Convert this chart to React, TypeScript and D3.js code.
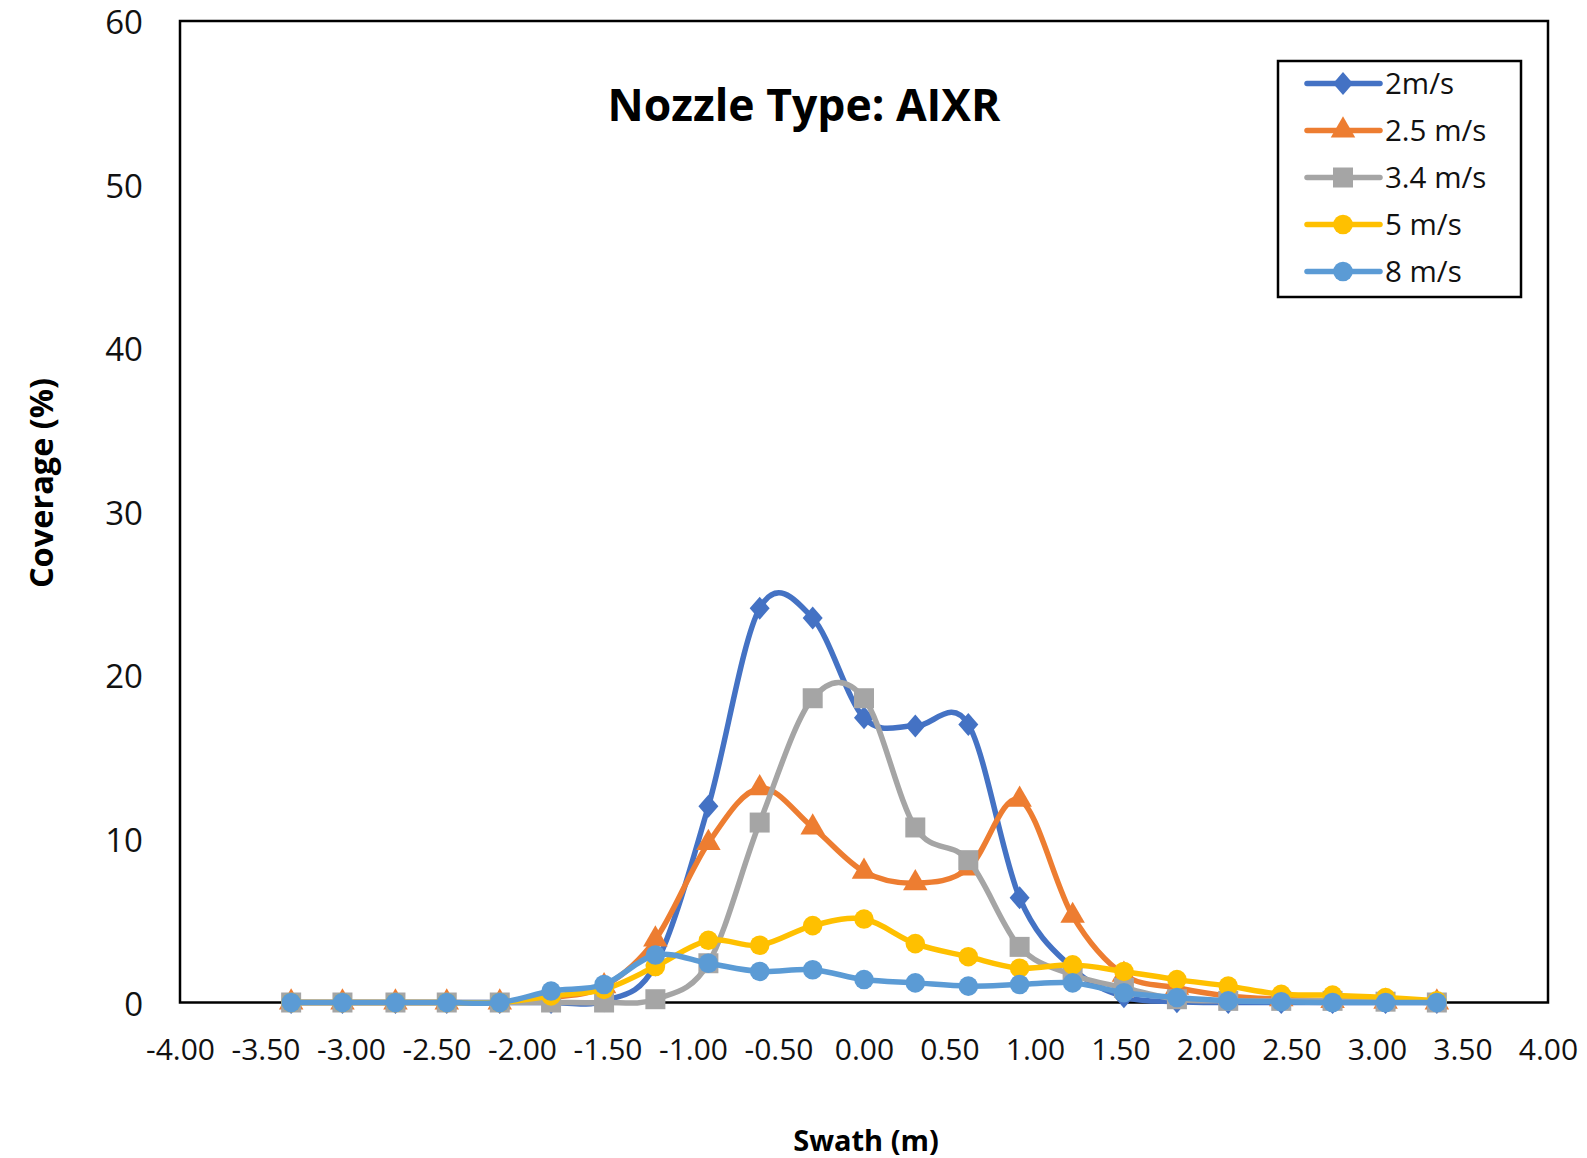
import { useEffect, useRef } from "react";
import * as d3 from "d3";

// swath positions (m) and coverage (%)
const swath = [-3.35, -3.05, -2.74, -2.44, -2.13, -1.83, -1.52, -1.22, -0.91, -0.61, -0.3, 0, 0.3, 0.61, 0.91, 1.22, 1.52, 1.83, 2.13, 2.44, 2.74, 3.05, 3.35];

const v2 = [0, 0, 0, 0, 0, 0, 0.1, 2.3, 12.0, 24.1, 23.5, 17.4, 16.9, 17.0, 6.4, 2.1, 0.35, 0.05, 0, 0, 0, 0, 0];
const v25 = [0, 0, 0, 0, 0, 0.3, 1.0, 3.85, 9.75, 13.1, 10.7, 8.0, 7.3, 8.2, 12.4, 5.3, 1.7, 0.9, 0.4, 0.2, 0.1, 0.05, 0];
const v34 = [0, 0, 0, 0, 0, 0, 0, 0.2, 2.4, 11.0, 18.6, 18.6, 10.7, 8.7, 3.4, 1.7, 0.9, 0.2, 0.1, 0.1, 0.1, 0.05, 0];
const v5 = [0, 0, 0, 0, 0, 0.4, 0.8, 2.2, 3.8, 3.5, 4.7, 5.1, 3.6, 2.8, 2.1, 2.3, 1.9, 1.4, 1.0, 0.5, 0.45, 0.3, 0.1];
const v8 = [0, 0, 0, 0, 0, 0.7, 1.1, 2.9, 2.4, 1.9, 2.0, 1.4, 1.2, 1.0, 1.1, 1.2, 0.6, 0.3, 0.1, 0.05, 0, 0, 0];

const seriesNames = ["2m/s", "2.5 m/s", "3.4 m/s", "5 m/s", "8 m/s"];
const seriesValues = [v2, v25, v34, v5, v8];
const seriesColors = ["#4472C4", "#ED7D31", "#A5A5A5", "#FFC000", "#5B9BD5"];
const seriesMarkers = ["diamond", "triangle", "square", "circle", "circle"];

const xTicks = d3.range(-4, 4.001, 0.5);
const yTicks = [0, 10, 20, 30, 40, 50, 60];

const FONT = "'Open Sans', 'Noto Sans', sans-serif";

const App = () => {
  const ref = useRef<SVGSVGElement | null>(null);

  useEffect(() => {
    drawChart();
  }, []);

  const drawChart = () => {
    const svg = d3.select(ref.current);
    svg.selectAll("*").remove();

    const plot = { left: 180, right: 1548, top: 21, bottom: 1002.5 };

    const xScale = d3.scaleLinear().domain([-4, 4]).range([plot.left, plot.right]);
    const yScale = d3.scaleLinear().domain([0, 60]).range([plot.bottom, plot.top]);

    // frame
    svg
      .append("rect")
      .attr("x", plot.left)
      .attr("y", plot.top)
      .attr("width", plot.right - plot.left)
      .attr("height", plot.bottom - plot.top)
      .attr("fill", "none")
      .attr("stroke", "#000")
      .attr("stroke-width", 2.5);

    // x ticks
    svg
      .append("g")
      .attr("transform", `translate(0,${plot.bottom})`)
      .call(d3.axisBottom(xScale).tickValues(xTicks).tickSize(0).tickPadding(36).tickFormat((d) => (d as number).toFixed(2)))
      .call((g) => g.select(".domain").remove())
      .selectAll("text")
      .style("font-family", FONT)
      .style("font-size", "30px")
      .attr("fill", "#111");

    // y ticks
    svg
      .append("g")
      .attr("transform", `translate(${plot.left},0)`)
      .call(d3.axisLeft(yScale).tickValues(yTicks).tickSize(0).tickPadding(37))
      .call((g) => g.select(".domain").remove())
      .selectAll("text")
      .attr("dy", "0.38em")
      .style("font-family", FONT)
      .style("font-size", "33px")
      .attr("fill", "#111");

    // titles
    svg
      .append("text")
      .attr("x", 804)
      .attr("y", 121)
      .attr("text-anchor", "middle")
      .style("font-family", FONT)
      .style("font-size", "44.5px")
      .style("font-weight", "bold")
      .text("Nozzle Type: AIXR");

    svg
      .append("text")
      .attr("x", 866)
      .attr("y", 1151)
      .attr("text-anchor", "middle")
      .style("font-family", FONT)
      .style("font-size", "29px")
      .style("font-weight", "bold")
      .text("Swath (m)");

    svg
      .append("text")
      .attr("transform", "translate(53,483) rotate(-90)")
      .attr("text-anchor", "middle")
      .style("font-family", FONT)
      .style("font-size", "32.5px")
      .style("font-weight", "bold")
      .text("Coverage (%)");

    const symbolFor = (m: string) => {
      if (m === "diamond") return "M0,-11.5L10,0L0,11.5L-10,0Z";
      if (m === "triangle") return d3.symbol().type(d3.symbolTriangle).size(260)();
      if (m === "square") return d3.symbol().type(d3.symbolSquare).size(400)();
      return d3.symbol().type(d3.symbolCircle).size(300)();
    };

    const line = d3
      .line<number>()
      .x((_, i) => xScale(swath[i]))
      .y((d) => yScale(d))
      .curve(d3.curveCatmullRom.alpha(0));

    seriesValues.forEach((vals, s) => {
      const g = svg.append("g");
      g.append("path")
        .attr("d", line(vals))
        .attr("fill", "none")
        .attr("stroke", seriesColors[s])
        .attr("stroke-width", 5.5)
        .attr("stroke-linejoin", "round");
      g.selectAll("path.m")
        .data(vals)
        .join("path")
        .attr("class", "m")
        .attr("d", symbolFor(seriesMarkers[s]))
        .attr("transform", (d, i) => `translate(${xScale(swath[i])},${yScale(d)})`)
        .attr("fill", seriesColors[s]);
    });

    // legend
    const legend = svg.append("g");
    legend
      .append("rect")
      .attr("x", 1278)
      .attr("y", 61)
      .attr("width", 243)
      .attr("height", 236)
      .attr("fill", "#fff")
      .attr("stroke", "#000")
      .attr("stroke-width", 2.5);

    seriesNames.forEach((name, s) => {
      const cy = 83.5 + s * 47;
      legend
        .append("line")
        .attr("x1", 1307)
        .attr("x2", 1380)
        .attr("y1", cy)
        .attr("y2", cy)
        .attr("stroke", seriesColors[s])
        .attr("stroke-width", 5.5)
        .attr("stroke-linecap", "round");
      legend
        .append("path")
        .attr("d", symbolFor(seriesMarkers[s]))
        .attr("transform", `translate(1343,${cy})`)
        .attr("fill", seriesColors[s]);
      legend
        .append("text")
        .attr("x", 1385)
        .attr("y", cy)
        .attr("dy", "0.36em")
        .style("font-family", FONT)
        .style("font-size", "29.5px")
        .attr("fill", "#111")
        .text(name);
    });
  };

  return <svg ref={ref} width={1587} height={1158} style={{ position: "absolute", left: 0, top: 0, background: "#fff" }} />;
};

export default App;
